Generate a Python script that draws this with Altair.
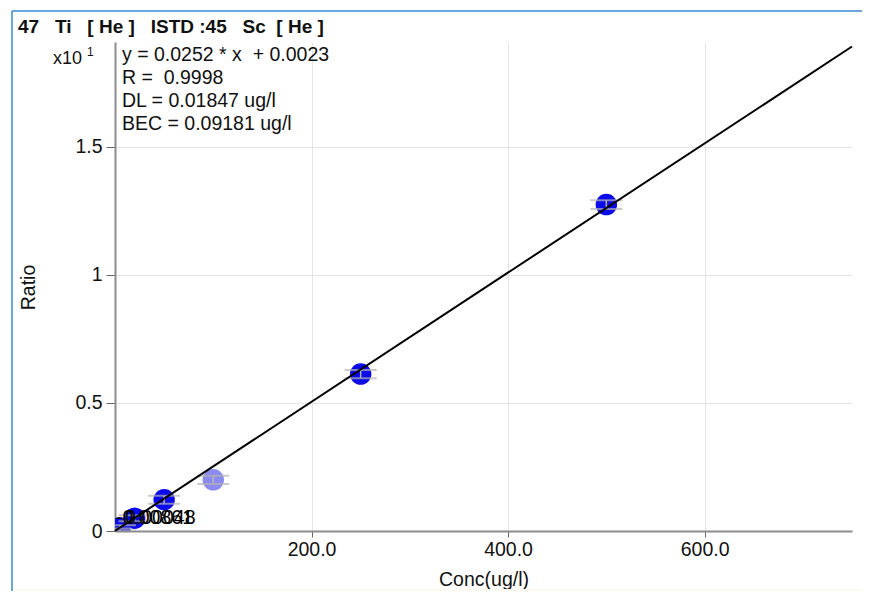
import altair as alt
import pandas as pd

# ---- data ----
NB = "\u00a0"
S3 = NB * 3
title_text = f"47{S3}Ti{S3}[{NB}He{NB}]{S3}ISTD{NB}:45{S3}Sc{NB}{NB}[{NB}He{NB}]"
annotation_lines = [f"y = 0.0252 * x{NB} + 0.0023", f"R = {NB}0.9998", "DL = 0.01847 ug/l", "BEC = 0.09181 ug/l"]

conc = [0, 5, 20, 50, 100, 250, 500]
ratio = [0.0, 0.012, 0.05, 0.122, 0.2, 0.613, 1.275]
err = [0.01, 0.01, 0.012, 0.016, 0.016, 0.016, 0.017]
status = ["used", "used", "used", "used", "excluded", "used", "used"]

line_x = [0, 750]
line_y = [0.00023, 1.8923]

blank_x = [2]
blank_y = [0.006]

label_x = [0, 0]
label_y = [0.05, 0.05]
label_text = ["-0.00861", "0.00048"]
label_dx = [1, 10]

x_ticks = [200, 400, 600]
y_ticks = [0, 0.5, 1, 1.5]

FONT = "Liberation Sans"
FS = 19.5

pts = pd.DataFrame({"conc": conc, "ratio": ratio, "lo": [r - e for r, e in zip(ratio, err)],
                    "hi": [r + e for r, e in zip(ratio, err)], "status": status})
line_df = pd.DataFrame({"conc": line_x, "ratio": line_y})
blank_df = pd.DataFrame({"conc": blank_x, "ratio": blank_y})

xs = alt.Scale(domain=[0, 750], nice=False, zero=False)
ys = alt.Scale(domain=[0, 1.91], nice=False, zero=False)

x_axis = alt.Axis(values=x_ticks, format=".1f", title="Conc(ug/l)", grid=True, gridColor="#e4e4e4",
                  domainColor="#8c8c8c", domainWidth=2, tickColor="#666666", tickSize=6,
                  labelFontSize=FS, labelFont=FONT, labelColor="#111111", labelPadding=3,
                  titleFontSize=FS, titleFont=FONT, titleFontWeight="normal", titleColor="#111111",
                  titleY=48, titleBaseline="middle")
y_axis = alt.Axis(values=y_ticks, format="~g", title="Ratio", grid=True, gridColor="#e4e4e4",
                  domainColor="#8c8c8c", domainWidth=2, tickColor="#666666", tickSize=9,
                  labelFontSize=FS, labelFont=FONT, labelColor="#111111", labelPadding=4,
                  titleFontSize=FS, titleFont=FONT, titleFontWeight="normal", titleColor="#111111",
                  titleX=-87, titleY=245, titleAngle=-90, titleBaseline="middle", titleAlign="center")

base = alt.Chart(pts)

circles = base.mark_circle(size=460, opacity=1, clip=True).encode(
    x=alt.X("conc:Q", scale=xs, axis=x_axis),
    y=alt.Y("ratio:Q", scale=ys, axis=y_axis),
    color=alt.Color("status:N", scale=alt.Scale(domain=["used", "excluded"], range=["#0a0aea", "#8a8af0"]),
                    legend=None),
)

caps_lo = base.mark_tick(orient="horizontal", size=32, thickness=2, color="#b4b4b4", clip=True).encode(
    x="conc:Q", y="lo:Q")
caps_hi = base.mark_tick(orient="horizontal", size=32, thickness=2, color="#b4b4b4", clip=True).encode(
    x="conc:Q", y="hi:Q")
stems = base.mark_rule(color="#b4b4b4", strokeWidth=1.5, clip=True).encode(x="conc:Q", y="lo:Q", y2="hi:Q")

blank = alt.Chart(blank_df).mark_point(shape="triangle-up", size=60, color="#0a0aea", filled=False,
                                       strokeWidth=1.5, clip=True).encode(x="conc:Q", y="ratio:Q")

reg = alt.Chart(line_df).mark_line(color="#000000", strokeWidth=2).encode(x="conc:Q", y="ratio:Q")

label_layers = []
for lx, ly, lt, ldx in zip(label_x, label_y, label_text, label_dx):
    label_layers.append(
        alt.Chart(pd.DataFrame({"conc": [lx], "ratio": [ly], "t": [lt]})).mark_text(
            align="left", baseline="middle", fontSize=FS, font=FONT, color="#000000", dx=ldx
        ).encode(x="conc:Q", y="ratio:Q", text="t:N")
    )

one = pd.DataFrame({"a": [0]})
annot = alt.Chart(one).mark_text(
    text=annotation_lines, align="left", baseline="middle", fontSize=FS, font=FONT,
    lineHeight=23, color="#111111").encode(x=alt.value(7), y=alt.value(13))

x10 = alt.Chart(one).mark_text(
    text="x10", align="right", baseline="middle", fontSize=18, font=FONT, color="#111111"
).encode(x=alt.value(-33), y=alt.value(17))
x10sup = alt.Chart(one).mark_text(
    text="1", align="left", baseline="middle", fontSize=12, font=FONT, color="#111111"
).encode(x=alt.value(-28), y=alt.value(10))

title = alt.Chart(one).mark_text(
    text=title_text, align="left", baseline="middle", fontSize=19, fontWeight="bold", font=FONT,
    color="#111111").encode(x=alt.value(-97), y=alt.value(-15))

frame_left = alt.Chart(one).mark_rule(color="#3a8ad2", strokeWidth=1.5).encode(
    x=alt.value(-103), y=alt.value(-31), y2=alt.value(560))
frame_top = alt.Chart(one).mark_rule(color="#3a8ad2", strokeWidth=1.5).encode(
    x=alt.value(-103), x2=alt.value(760), y=alt.value(-31))
cream = alt.Chart(one).mark_rect(color="#fffaf0").encode(
    x=alt.value(-102), x2=alt.value(760), y=alt.value(547), y2=alt.value(560))

chart = alt.layer(cream, frame_left, frame_top, circles, blank, caps_lo, caps_hi, stems, reg,
                  *label_layers, annot, x10, x10sup, title).properties(
    width=737, height=489,
    autosize=alt.AutoSizeParams(type="none"),
    padding={"left": 107, "top": 34, "right": 10, "bottom": 60},
    background="#ffffff",
).configure_view(stroke=None)

chart.save("out.html", embed_options={"renderer": "svg", "actions": False})
